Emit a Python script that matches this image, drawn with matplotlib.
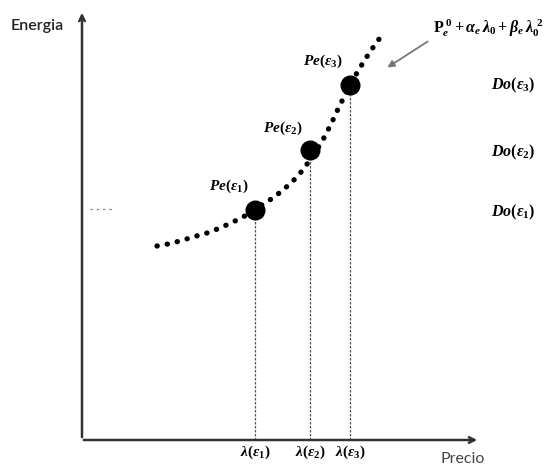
import matplotlib
matplotlib.use("Agg")
import matplotlib.pyplot as plt

plt.rcParams["mathtext.fontset"] = "custom"
plt.rcParams["mathtext.rm"] = "Liberation Serif:bold"
plt.rcParams["mathtext.it"] = "Liberation Serif:italic:bold"
plt.rcParams["mathtext.bf"] = "Liberation Serif:bold"

# curve (precio, energia)
curve_precio = [75, 86, 98, 111, 125, 138, 151, 161, 173, 181, 191, 201, 211, 220,
                228, 236, 243, 250, 256, 262, 268, 276, 284, 292, 300]
curve_energia = [194, 196, 199, 203, 207, 212, 218, 223, 230, 236, 242, 250, 259, 269,
                 280, 292, 304, 318, 331, 343, 355, 369, 382, 394, 405]

# operating points Pe(eps_i)
pt_precio = [173, 228, 268]
pt_energia = [230, 290, 355]
pt_labels = [r"$Pe(\varepsilon_1)$", r"$Pe(\varepsilon_2)$", r"$Pe(\varepsilon_3)$"]
lam_labels = [r"$\lambda(\varepsilon_1)$", r"$\lambda(\varepsilon_2)$", r"$\lambda(\varepsilon_3)$"]
do_labels = [r"$Do(\varepsilon_1)$", r"$Do(\varepsilon_2)$", r"$Do(\varepsilon_3)$"]

fig = plt.figure(figsize=(5.55, 4.71), dpi=100)
ax = fig.add_axes([0, 0, 1, 1])
ax.set_xlim(-82, 473)
ax.set_ylim(-31, 440)
ax.axis("off")

# axes with arrows
ax.annotate("", xy=(0, 430), xytext=(0, 0),
            arrowprops=dict(arrowstyle="->", color="#333333", lw=1.8))
ax.annotate("", xy=(398, 0), xytext=(-1, 0),
            arrowprops=dict(arrowstyle="->", color="#333333", lw=1.8))
ax.text(-71, 414, "Energia", fontsize=11.5, family="Lato", weight="semibold",
        color="#222222", va="center")
ax.text(358, -19, "Precio", fontsize=11.5, family="Lato", color="#444444", va="center")

# dotted curve
ax.plot(curve_precio, curve_energia, color="black", lw=3.8,
        linestyle=(0, (0.05, 1.9)), dash_capstyle="round")

# vertical guides
for x, y in zip(pt_precio, pt_energia):
    ax.plot([x, x], [0, y], color="#555555", lw=0.9, linestyle=(0, (2, 1.2)))

ax.scatter(pt_precio, pt_energia, s=180, color="black", zorder=5)

# remnant dashes near the y axis
ax.plot([8, 30], [231, 231], color="#888888", lw=0.9, linestyle=(0, (2, 3)))

offsets = [(-26, 24), (-27, 22), (-27, 24)]
for x, y, lab, (dx, dy) in zip(pt_precio, pt_energia, pt_labels, offsets):
    ax.text(x + dx, y + dy, lab, fontsize=11, ha="center", va="center")

for x, lab in zip(pt_precio, lam_labels):
    ax.text(x, -12, lab, fontsize=11, ha="center", va="center")

for y, lab in zip([228, 288, 355], do_labels):
    ax.text(431, y, lab, fontsize=11.5, ha="center", va="center")

ax.text(351, 412, r"$\mathrm{P}_e^{\ 0}+\alpha_e\,\lambda_0+\beta_e\,\lambda_0^{\ 2}$",
        fontsize=11.5, ha="left", va="center")
ax.annotate("", xy=(303, 371), xytext=(348, 400),
            arrowprops=dict(arrowstyle="-|>", color="#777777", lw=1.3,
                            mutation_scale=10))

fig.savefig("out.png", dpi=100)
